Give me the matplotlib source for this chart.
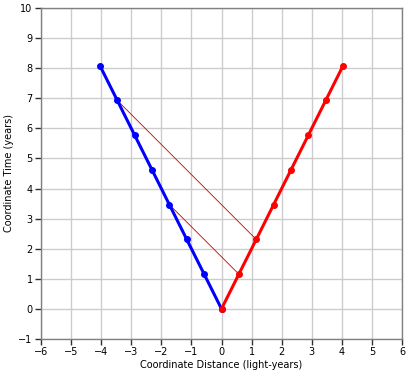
import matplotlib
matplotlib.use("Agg")
import matplotlib.pyplot as plt

# Blue worldline (moving left)
blue_x = [0.0, -0.577, -1.155, -1.732, -2.309, -2.887, -3.464, -4.041]
blue_t = [0.0, 1.155, 2.309, 3.464, 4.619, 5.774, 6.928, 8.083]
# Red worldline (moving right)
red_x = [0.0, 0.577, 1.155, 1.732, 2.309, 2.887, 3.464, 4.041]
red_t = [0.0, 1.155, 2.309, 3.464, 4.619, 5.774, 6.928, 8.083]
# Signal lines (from blue point to red point)
sig_x0 = [-3.464, -1.732]
sig_t0 = [6.928, 3.464]
sig_x1 = [1.155, 0.577]
sig_t1 = [2.309, 1.155]

xticks = list(range(-6, 7))
yticks = list(range(-1, 11))

plt.rcParams['font.family'] = ['DejaVu Sans']
fig = plt.figure(figsize=(4.13, 3.78), dpi=100)
ax = fig.add_axes([41/413, 1 - 339/378, (402-41)/413, (339-8)/378])

ax.set_xlim(-6, 6)
ax.set_ylim(-1, 10)
ax.set_xticks(xticks)
ax.set_yticks(yticks)
ax.grid(True, color='#cccccc', linewidth=1)
ax.set_axisbelow(True)

for x0, t0, x1, t1 in zip(sig_x0, sig_t0, sig_x1, sig_t1):
    ax.plot([x0, x1], [t0, t1], color='#cc0000', linewidth=0.6, zorder=2)

ax.plot(blue_x, blue_t, color='#0000ff', linewidth=2.2, marker='o', markersize=4, zorder=3)
ax.plot(red_x, red_t, color='#ff0000', linewidth=2.2, marker='o', markersize=4, zorder=3)

for s in ax.spines.values():
    s.set_color('#808080')
    s.set_linewidth(1)
ax.tick_params(direction='out', length=4, width=1, color='#303030', labelsize=7, pad=2)
ax.set_xlabel('Coordinate Distance (light-years)', fontsize=7, labelpad=2)
ax.set_ylabel('Coordinate Time (years)', fontsize=7, labelpad=3)

fig.savefig('out.png', dpi=100)
